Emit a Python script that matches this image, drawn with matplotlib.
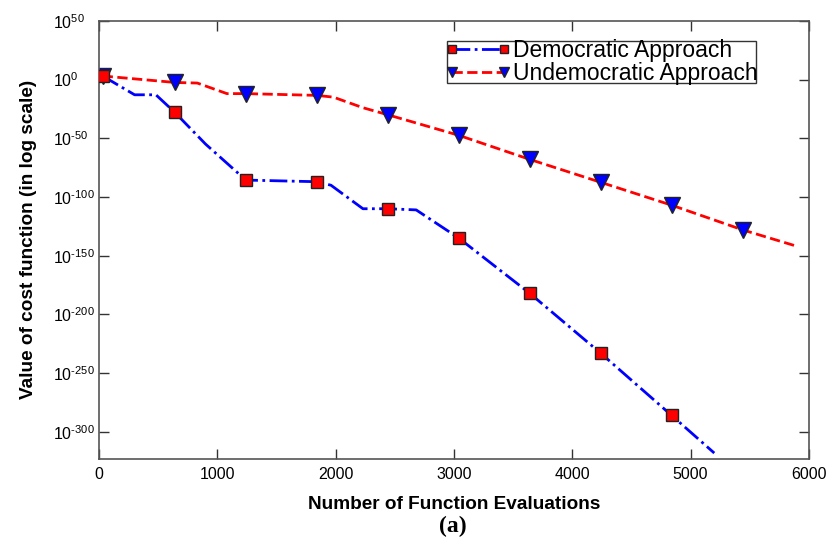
import numpy as np
import matplotlib.pyplot as plt

plt.rcParams['font.family'] = ['Liberation Sans', 'DejaVu Sans']
plt.rcParams['mathtext.fontset'] = 'custom'
plt.rcParams['mathtext.rm'] = 'Liberation Sans'
plt.rcParams['mathtext.it'] = 'Liberation Sans'

# log10 of cost function value vs number of function evaluations
dem_x = [30, 300, 480, 640, 900, 1240, 1840, 1960, 2230, 2440, 2680, 3040, 3640, 4240, 4840, 5200]
dem_y = [3, -13, -13, -28, -55, -85.6, -87, -90, -110, -110, -111, -135, -182, -233, -286, -318]
dem_marks = [0, 3, 5, 6, 9, 11, 12, 13, 14]

und_x = [30, 640, 830, 1080, 1240, 1840, 1980, 2230, 2440, 3040, 3640, 4240, 4840, 5440, 5900]
und_y = [3, -2.5, -3, -12, -12, -13.5, -15, -24, -30, -47.5, -68, -87.5, -107, -128, -142]
und_marks = [0, 1, 4, 5, 8, 9, 10, 11, 12, 13]

x_ticks = [0, 1000, 2000, 3000, 4000, 5000, 6000]
y_ticks = [50, 0, -50, -100, -150, -200, -250, -300]

fig = plt.figure(figsize=(8.4, 5.47), dpi=100)
ax = fig.add_axes([0.118, 0.161, 0.845, 0.801])

ax.plot(und_x, und_y, linestyle='--', color='#ff0000', lw=2,
        marker='v', markevery=und_marks, markersize=11,
        markerfacecolor='#0000ff', markeredgecolor='#222222', markeredgewidth=1,
        label='Undemocratic Approach', zorder=2)
ax.plot(dem_x, dem_y, linestyle='-.', color='#0000ff', lw=2,
        marker='s', markevery=dem_marks, markersize=8.5,
        markerfacecolor='#ff0000', markeredgecolor='#222222', markeredgewidth=1,
        label='Democratic Approach', zorder=3)

ax.set_xlim(0, 6000)
ax.set_ylim(-323, 50)
ax.set_xticks(x_ticks)
ax.set_xticklabels([str(t) for t in x_ticks])
ax.set_yticks(y_ticks)
ax.set_yticklabels(['$10^{\\text{%d}}$' % t for t in y_ticks], ha='left')
ax.tick_params(direction='in', length=7, width=1, top=True, right=True,
               labelsize=11.5, colors='#333333', labelcolor='black')
ax.tick_params(axis='x', pad=6)
ax.tick_params(axis='y', pad=33)
for s in ax.spines.values():
    s.set_color('#555555')
    s.set_linewidth(1.2)

ax.set_xlabel('Number of Function Evaluations', fontsize=13.7, fontweight='bold', labelpad=10)
ax.set_ylabel('Value of cost function (in log scale)', fontsize=13.7, fontweight='bold', labelpad=12)

h, l = ax.get_legend_handles_labels()
leg = ax.legend(h[::-1], l[::-1], loc='upper right', bbox_to_anchor=(0.925, 0.955),
                borderaxespad=0, fontsize=16.5, numpoints=2, markerscale=0.6,
                handlelength=2.85, handletextpad=0.1, labelspacing=0.0,
                borderpad=-0.08, fancybox=False, framealpha=1)
leg.get_frame().set_edgecolor('#333333')
leg.get_frame().set_linewidth(1)

fig.text(0.539, 0.038, '(a)', fontsize=17, fontweight='bold',
         family=['Liberation Serif', 'DejaVu Serif'], ha='center', va='center')

fig.savefig('out.png', dpi=100)
